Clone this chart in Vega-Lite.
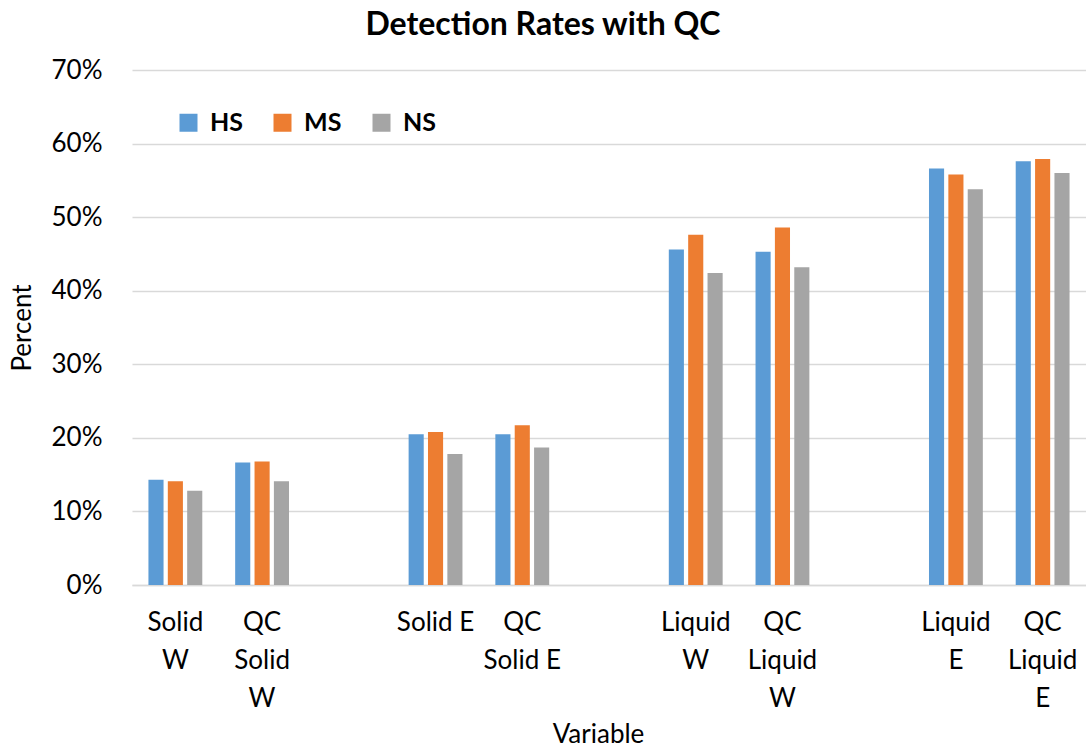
{
  "$schema": "https://vega.github.io/schema/vega-lite/v6.json",
  "width": 954,
  "height": 515,
  "autosize": {"type": "none"},
  "padding": {"left": 132, "top": 70, "right": 0, "bottom": 165},
  "config": {"font": "Lato", "view": {"stroke": null}},
  "title": {"text": "Detection Rates with QC", "fontSize": 32, "fontWeight": "bold", "color": "#000000", "anchor": "middle", "dx": -66, "offset": 15},
  "data": {
    "values": [
      {"variable": "Solid|W", "group": "HS", "percent": 0.143},
      {"variable": "Solid|W", "group": "MS", "percent": 0.141},
      {"variable": "Solid|W", "group": "NS", "percent": 0.128},
      {"variable": "QC|Solid|W", "group": "HS", "percent": 0.1665},
      {"variable": "QC|Solid|W", "group": "MS", "percent": 0.168},
      {"variable": "QC|Solid|W", "group": "NS", "percent": 0.141},
      {"variable": "Solid E", "group": "HS", "percent": 0.205},
      {"variable": "Solid E", "group": "MS", "percent": 0.208},
      {"variable": "Solid E", "group": "NS", "percent": 0.178},
      {"variable": "QC|Solid E", "group": "HS", "percent": 0.205},
      {"variable": "QC|Solid E", "group": "MS", "percent": 0.217},
      {"variable": "QC|Solid E", "group": "NS", "percent": 0.187},
      {"variable": "Liquid|W", "group": "HS", "percent": 0.456},
      {"variable": "Liquid|W", "group": "MS", "percent": 0.476},
      {"variable": "Liquid|W", "group": "NS", "percent": 0.424},
      {"variable": "QC|Liquid|W", "group": "HS", "percent": 0.453},
      {"variable": "QC|Liquid|W", "group": "MS", "percent": 0.486},
      {"variable": "QC|Liquid|W", "group": "NS", "percent": 0.432},
      {"variable": "Liquid|E", "group": "HS", "percent": 0.566},
      {"variable": "Liquid|E", "group": "MS", "percent": 0.558},
      {"variable": "Liquid|E", "group": "NS", "percent": 0.538},
      {"variable": "QC|Liquid|E", "group": "HS", "percent": 0.576},
      {"variable": "QC|Liquid|E", "group": "MS", "percent": 0.579},
      {"variable": "QC|Liquid|E", "group": "NS", "percent": 0.560}
    ]
  },
  "mark": {"type": "bar"},
  "encoding": {
    "x": {
      "field": "variable",
      "type": "nominal",
      "scale": {
        "domain": ["Solid|W", "QC|Solid|W", "gap1", "Solid E", "QC|Solid E", "gap2", "Liquid|W", "QC|Liquid|W", "gap3", "Liquid|E", "QC|Liquid|E"],
        "paddingInner": 0.33,
        "paddingOuter": 0.165
      },
      "axis": {
        "title": "Variable",
        "titleFontSize": 26,
        "titleFontWeight": "normal",
        "titleColor": "#000000",
        "titleX": 466,
        "titlePadding": 10,
        "labelExpr": "indexof(datum.value, 'gap') == 0 ? '' : split(datum.value, '|')",
        "labelAngle": 0,
        "labelFontSize": 26,
        "labelColor": "#000000",
        "labelLineHeight": 38,
        "labelPadding": 24,
        "labelBaseline": "top",
        "ticks": false,
        "domainColor": "#d9d9d9",
        "domainWidth": 1.5,
        "grid": false
      }
    },
    "xOffset": {
      "field": "group",
      "type": "nominal",
      "scale": {"domain": ["HS", "MS", "NS"], "paddingInner": 0.22, "paddingOuter": 0.11}
    },
    "y": {
      "field": "percent",
      "type": "quantitative",
      "scale": {"domain": [0, 0.7]},
      "axis": {
        "title": "Percent",
        "titleFontSize": 26,
        "titleFontWeight": "normal",
        "titleColor": "#000000",
        "titlePadding": 16,
        "format": "0%",
        "values": [0, 0.1, 0.2, 0.3, 0.4, 0.5, 0.6, 0.7],
        "labelFontSize": 26,
        "labelColor": "#000000",
        "labelPadding": 30,
        "ticks": false,
        "domain": false,
        "gridColor": "#d9d9d9",
        "gridWidth": 1.5
      }
    },
    "color": {
      "field": "group",
      "type": "nominal",
      "scale": {"domain": ["HS", "MS", "NS"], "range": ["#5b9bd5", "#ed7d31", "#a5a5a5"]},
      "legend": {
        "title": null,
        "orient": "none",
        "legendX": 44,
        "legendY": 40,
        "padding": 0,
        "direction": "horizontal",
        "symbolType": "square",
        "symbolSize": 324,
        "symbolStrokeWidth": 0,
        "labelFontSize": 25,
        "labelFontWeight": "bold",
        "labelColor": "#000000",
        "labelOffset": 9,
        "columnPadding": 27
      }
    }
  }
}
